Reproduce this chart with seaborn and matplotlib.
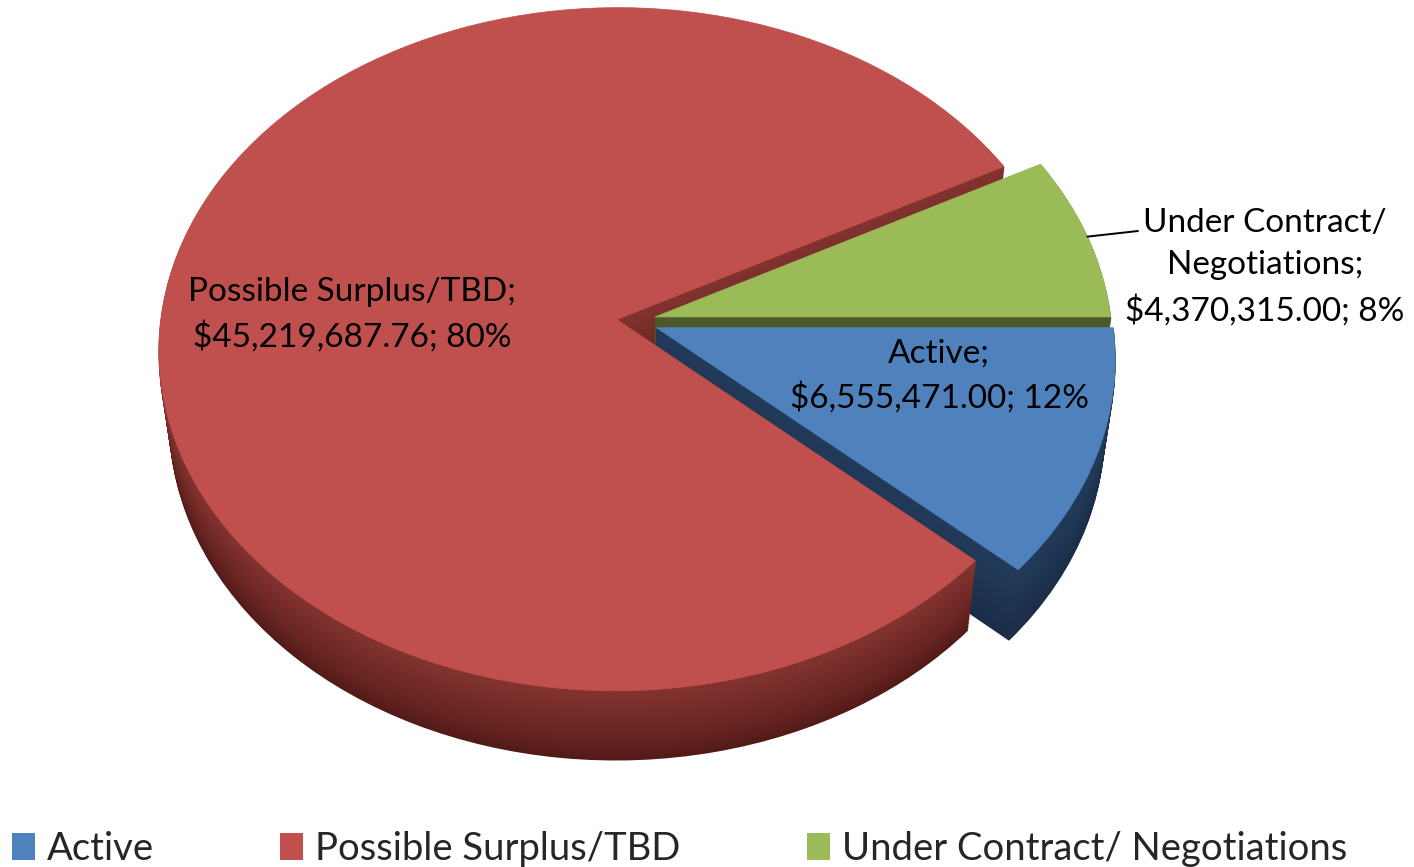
import numpy as np
import matplotlib
matplotlib.use("Agg")
import matplotlib.pyplot as plt
import matplotlib.transforms as mtransforms
from matplotlib.patches import Patch
from matplotlib.colors import to_rgb
import seaborn as sns

# ---------------- data ----------------
categories = ["Active", "Possible Surplus/TBD", "Under Contract/ Negotiations"]
values = [6555471.00, 45219687.76, 4370315.00]
value_labels = ["$6,555,471.00", "$45,219,687.76", "$4,370,315.00"]
percent_labels = ["12%", "80%", "8%"]

# ---------------- style ----------------
top_colors = ["#4F81BD", "#C0504D", "#9BBB59"]
side_top_colors = ["#223A5A", "#83332F", "#4C5A2A"]
side_bottom_colors = ["#1B2D47", "#521A18", "#3A4520"]
explode = [0.055, 0.036, 0.05]

sns.set_style("white")
plt.rcParams["font.family"] = ["Lato", "DejaVu Sans"]

W, H = 1414, 867
# perspective camera (pixel space)
CX, CY = 633, 321
SIN_E, COS_E = 0.744, 0.668
DIST = 7.68
FOCAL = 3502.0
DEPTH = 0.24


class PerspectiveProjection(mtransforms.Transform):
    input_dims = 2
    output_dims = 2
    is_separable = False
    has_inverse = False

    def __init__(self, z):
        super().__init__()
        self.z = z

    def transform_non_affine(self, values):
        v = np.asarray(values, dtype=float).reshape(-1, 2)
        X, Y = v[:, 0], v[:, 1]
        yc = Y * SIN_E + self.z * COS_E
        dep = DIST + Y * COS_E - self.z * SIN_E
        u = FOCAL * X / dep
        w = FOCAL * yc / dep
        return np.column_stack([CX + u, CY - w])


def blend(c1, c2, t):
    a, b = np.array(to_rgb(c1)), np.array(to_rgb(c2))
    return tuple(a * (1 - t) + b * t)


fig = plt.figure(figsize=(W / 100, H / 100), dpi=100)
ax = fig.add_axes([0, 0, 1, 1])

n_layers = 50
top_wedges = None
for k in range(n_layers + 1):
    frac = k / n_layers
    z = -DEPTH * (1 - frac)
    if k == n_layers:
        cols = top_colors
        lw = 0.5
    else:
        cols = [blend(side_bottom_colors[i], side_top_colors[i], frac ** 0.8)
                for i in range(len(values))]
        lw = 1.2
    wedges, _ = ax.pie(values, explode=explode, startangle=0, counterclock=False,
                       colors=cols, radius=1.0,
                       wedgeprops=dict(linewidth=lw))
    for w, c in zip(wedges, cols):
        w.set_edgecolor(c)
        w.set_transform(PerspectiveProjection(z) + ax.transData)
    if k == n_layers:
        top_wedges = wedges

ax.set_aspect("auto")
ax.set_xlim(0, W)
ax.set_ylim(H, 0)
ax.axis("off")

# ---------------- data labels ----------------
label_font = 24
label_pos = {0: (939, 376), 1: (352, 315), 2: (1265, 267)}
for i, cat in enumerate(categories):
    txt = f"{cat.replace('/ ', '/' + chr(10))};\n{value_labels[i]}; {percent_labels[i]}"
    x, y = label_pos[i]
    ax.text(x, y, txt, ha="center", va="center", fontsize=label_font,
            color="black", linespacing=1.53, zorder=10)

# leader line for the green slice
gw = top_wedges[2]
mid = np.deg2rad((gw.theta1 + gw.theta2) / 2)
p0 = np.array([[gw.center[0] + gw.r * np.cos(mid), gw.center[1] + gw.r * np.sin(mid)]])
p0 = PerspectiveProjection(0).transform_non_affine(p0)[0]
ax.plot([p0[0], 1138], [p0[1], 231], color="black", lw=1.4, zorder=10)

# ---------------- legend ----------------
handles = [Patch(facecolor=c, edgecolor="none") for c in top_colors]
fig.legend(handles=handles, labels=categories, loc="lower left",
           bbox_to_anchor=(12 / W, 0.0), ncol=3, frameon=False,
           fontsize=27.5, handlelength=0.6, handleheight=0.72,
           handletextpad=0.32, columnspacing=3.3, borderpad=0.0,
           borderaxespad=0.0)

fig.savefig("out.png", dpi=100)
